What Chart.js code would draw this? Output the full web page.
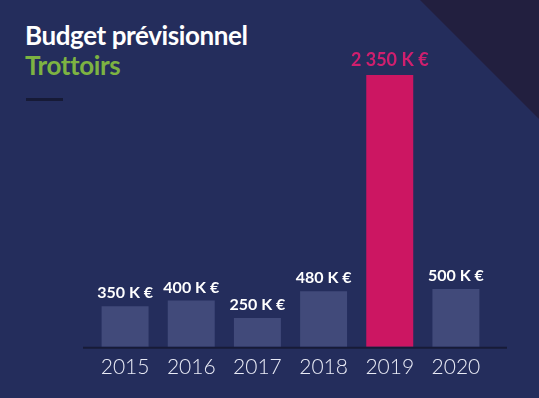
<!DOCTYPE html>
<html lang="fr">
<head>
<meta charset="utf-8">
<title>Budget prévisionnel - Trottoirs</title>
<script src="https://cdn.jsdelivr.net/npm/chart.js@4.4.1/dist/chart.umd.min.js"></script>
<style>
    html, body {
        margin: 0;
        padding: 0;
        width: 539px;
        height: 398px;
        overflow: hidden;
        background: #242d5c;
    }
    #wrap {
        position: relative;
        width: 539px;
        height: 398px;
    }
    /* dark corner in the top right */
    #corner {
        position: absolute;
        left: 0;
        top: 0;
        width: 539px;
        height: 398px;
        background: #221f3f;
        clip-path: polygon(420px 0, 539px 0, 539px 119px);
    }
    .title {
        position: absolute;
        left: 25px;
        font-family: 'Lato', sans-serif;
        font-weight: 700;
        font-size: 26px;
        letter-spacing: -0.4px;
        line-height: 1;
        white-space: nowrap;
    }
    #title1 { top: 22px; color: #ffffff; }
    #title2 { top: 52px; color: #7db342; }
    #rule {
        position: absolute;
        left: 26px;
        top: 98px;
        width: 37px;
        height: 3px;
        background: #161a36;
    }
    canvas {
        position: absolute;
        left: 0;
        top: 0;
    }
</style>
</head>
<body>
<div id="wrap">
    <div id="corner"></div>
    <div class="title" id="title1">Budget prévisionnel</div>
    <div class="title" id="title2">Trottoirs</div>
    <div id="rule"></div>
    <canvas id="budgetChart" width="539" height="398"></canvas>
</div>

<script>
// Data
const years = ['2015', '2016', '2017', '2018', '2019', '2020'];
const budgets = [350, 400, 250, 480, 2350, 500];   // en K €
const valueLabels = ['350 K €', '400 K €', '250 K €', '480 K €', '2 350 K €', '500 K €'];
const highlightYear = '2019';

const grayBar = '#414a7a';
const pinkBar = '#cc1662';

// Draws the "xxx K €" label above each bar
const valueLabelPlugin = {
    id: 'valueLabels',
    afterDatasetsDraw(chart) {
        const ctx = chart.ctx;
        const meta = chart.getDatasetMeta(0);
        ctx.save();
        ctx.textAlign = 'center';
        ctx.textBaseline = 'bottom';
        meta.data.forEach(function(bar, i) {
            const isHighlight = years[i] === highlightYear;
            ctx.fillStyle = isHighlight ? '#d01f6e' : '#ffffff';
            ctx.font = isHighlight ? '700 18px Lato' : '700 16px Lato';
            ctx.fillText(valueLabels[i], bar.x, bar.y - (isHighlight ? 6 : 5));
        });
        ctx.restore();
    }
};

// Dark base line under the bars, a bit wider than the plot area
const baseLinePlugin = {
    id: 'baseLine',
    beforeDatasetsDraw(chart) {
        const ctx = chart.ctx;
        const area = chart.chartArea;
        ctx.save();
        ctx.strokeStyle = '#171b37';
        ctx.lineWidth = 2;
        ctx.beginPath();
        ctx.moveTo(area.left - 9, area.bottom + 1);
        ctx.lineTo(area.right + 18, area.bottom + 1);
        ctx.stroke();
        ctx.restore();
    }
};

const canvas = document.getElementById('budgetChart');
const ctx = canvas.getContext('2d');

new Chart(ctx, {
    type: 'bar',
    data: {
        labels: years,
        datasets: [{
            data: budgets,
            backgroundColor: years.map(y => y === highlightYear ? pinkBar : grayBar),
            borderWidth: 0,
            barPercentage: 0.71,
            categoryPercentage: 1
        }]
    },
    options: {
        responsive: false,
        animation: false,
        layout: {
            padding: { left: 92, right: 50, top: 75, bottom: 18 }
        },
        plugins: {
            legend: { display: false },
            title: { display: false },
            tooltip: { enabled: false }
        },
        scales: {
            x: {
                grid: { display: false },
                border: { display: false },
                ticks: {
                    color: '#e9ebf6',
                    padding: 0,
                    font: { family: 'Lato', size: 21, weight: '300' }
                }
            },
            y: {
                display: false,
                min: 0,
                max: 2350
            }
        }
    },
    plugins: [baseLinePlugin, valueLabelPlugin]
});
</script>
</body>
</html>
